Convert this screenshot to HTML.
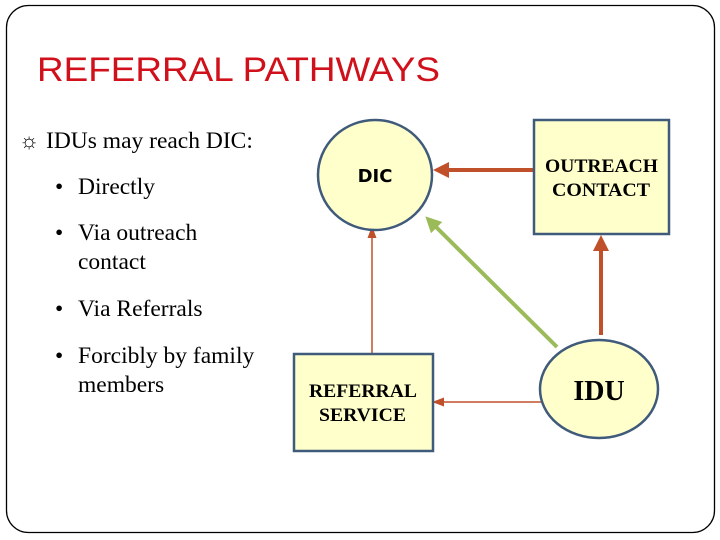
<!DOCTYPE html>
<html><head><meta charset="utf-8"><style>
html,body{margin:0;padding:0;background:#fff;}
svg{display:block}
</style></head><body>
<svg width="720" height="540" xmlns="http://www.w3.org/2000/svg">
<defs>
<marker id="ah" markerWidth="4" markerHeight="4" refX="2" refY="2" orient="auto" markerUnits="strokeWidth"><path d="M0,0 L4,2 L0,4 z" fill="#c0502a"/></marker>
<marker id="ahs" markerWidth="8" markerHeight="8" refX="4" refY="4" orient="auto" markerUnits="strokeWidth"><path d="M0,1 L8,4 L0,7 z" fill="#c0502a"/></marker>
<marker id="ahg" markerWidth="4" markerHeight="4" refX="2" refY="2" orient="auto" markerUnits="strokeWidth"><path d="M0,0 L4,2 L0,4 z" fill="#9bbb59"/></marker>
</defs>
<rect x="6.5" y="5.5" width="708" height="527" rx="22" ry="22" fill="#fff" stroke="#000" stroke-width="1.3"/>
<text x="37" y="81" font-family="Liberation Sans, sans-serif" font-size="34" fill="#d0101a" textLength="403" lengthAdjust="spacingAndGlyphs">REFERRAL PATHWAYS</text>
<g font-family="Liberation Serif, serif" font-size="23.5" fill="#000">
<text x="19" y="148" font-size="22">☼</text>
<text x="46" y="148">IDUs may reach DIC:</text>
<text x="55" y="194">•</text><text x="78" y="194">Directly</text>
<text x="55" y="240">•</text><text x="78" y="240">Via outreach</text>
<text x="78" y="269">contact</text>
<text x="55" y="316">•</text><text x="78" y="316">Via Referrals</text>
<text x="55" y="363">•</text><text x="78" y="363">Forcibly by family</text>
<text x="78" y="392">members</text>
</g>
<line x1="533" y1="170" x2="441" y2="170" stroke="#c0502a" stroke-width="4" marker-end="url(#ah)"/>
<line x1="601" y1="335" x2="601" y2="243" stroke="#c0502a" stroke-width="4" marker-end="url(#ah)"/>
<line x1="372" y1="353" x2="372" y2="232" stroke="#c0502a" stroke-width="1.5" marker-end="url(#ahs)"/>
<line x1="541" y1="402" x2="438" y2="402" stroke="#c0502a" stroke-width="1.5" marker-end="url(#ahs)"/>
<line x1="557" y1="347" x2="431" y2="222" stroke="#9bbb59" stroke-width="4" marker-end="url(#ahg)"/>
<ellipse cx="375" cy="175" rx="57" ry="55" fill="#ffffcc" stroke="#3f5a7a" stroke-width="2.5"/>
<text x="375" y="182" text-anchor="middle" font-family="DejaVu Sans, sans-serif" font-weight="bold" font-size="18" fill="#000">DIC</text>
<rect x="534" y="120" width="135" height="114" fill="#ffffcc" stroke="#3f5a7a" stroke-width="2.5"/>
<text x="545" y="172" font-family="Liberation Serif, serif" font-weight="bold" font-size="19" textLength="113" lengthAdjust="spacingAndGlyphs">OUTREACH</text>
<text x="552" y="196" font-family="Liberation Serif, serif" font-weight="bold" font-size="19" textLength="98" lengthAdjust="spacingAndGlyphs">CONTACT</text>
<rect x="294" y="354" width="139" height="97" fill="#ffffcc" stroke="#3f5a7a" stroke-width="2.5"/>
<text x="309" y="397" font-family="Liberation Serif, serif" font-weight="bold" font-size="19" textLength="108" lengthAdjust="spacingAndGlyphs">REFERRAL</text>
<text x="319" y="421" font-family="Liberation Serif, serif" font-weight="bold" font-size="19" textLength="87" lengthAdjust="spacingAndGlyphs">SERVICE</text>
<ellipse cx="599" cy="389" rx="59" ry="49" fill="#ffffcc" stroke="#3f5a7a" stroke-width="2.5"/>
<text x="599" y="400" text-anchor="middle" font-family="Liberation Serif, serif" font-weight="bold" font-size="28">IDU</text>
</svg>
</body></html>
